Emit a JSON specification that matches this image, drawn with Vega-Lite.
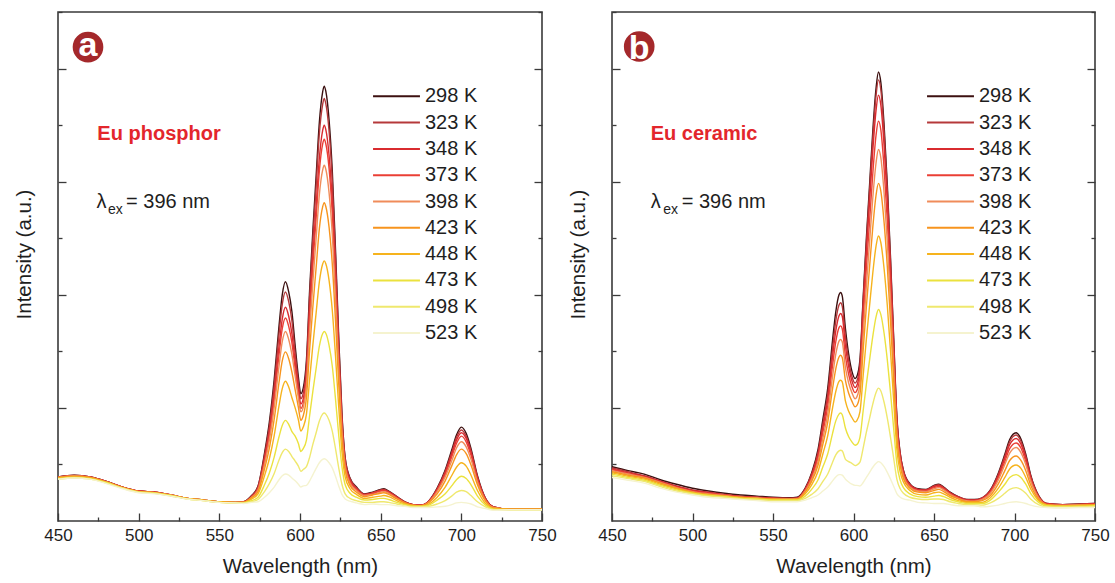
{
"$schema": "https://vega.github.io/schema/vega-lite/v6.json",
"background": "white",
"padding": {"left": 13, "top": 10, "right": 5, "bottom": 5},
"config": {
 "font": "Liberation Sans",
 "view": {"stroke": "#3a3a3a", "strokeWidth": 1.6},
 "axis": {"domain": false, "grid": false, "tickColor": "#3a3a3a", "tickWidth": 1.3, "labelFont": "Liberation Sans", "titleFont": "Liberation Sans", "labelColor": "#1e1e1e", "titleColor": "#1e1e1e", "titleFontWeight": "normal", "labelFontSize": 17, "labelPadding": 14.7},
 "legend": {"orient": "none", "legendX": 314, "legendY": 73.3, "title": null, "symbolType": "stroke", "symbolSize": 2200, "symbolStrokeWidth": 2, "labelFontSize": 20, "labelFont": "Liberation Sans", "labelColor": "#1e1e1e", "clipHeight": 22, "rowPadding": 4.3, "labelOffset": 4, "padding": 0}
},
"datasets": {
"phos": [
{"wl":450,"298 K":0.78,"323 K":0.78,"348 K":0.78,"373 K":0.77,"398 K":0.77,"423 K":0.77,"448 K":0.76,"473 K":0.75,"498 K":0.74,"523 K":0.74},
{"wl":460,"298 K":0.81,"323 K":0.81,"348 K":0.80,"373 K":0.80,"398 K":0.80,"423 K":0.79,"448 K":0.78,"473 K":0.77,"498 K":0.76,"523 K":0.76},
{"wl":470,"298 K":0.78,"323 K":0.78,"348 K":0.78,"373 K":0.77,"398 K":0.77,"423 K":0.77,"448 K":0.76,"473 K":0.75,"498 K":0.74,"523 K":0.74},
{"wl":480,"298 K":0.70,"323 K":0.70,"348 K":0.70,"373 K":0.69,"398 K":0.69,"423 K":0.69,"448 K":0.68,"473 K":0.68,"498 K":0.67,"523 K":0.66},
{"wl":490,"298 K":0.60,"323 K":0.60,"348 K":0.60,"373 K":0.60,"398 K":0.59,"423 K":0.59,"448 K":0.59,"473 K":0.58,"498 K":0.58,"523 K":0.57},
{"wl":500,"298 K":0.53,"323 K":0.53,"348 K":0.53,"373 K":0.53,"398 K":0.52,"423 K":0.52,"448 K":0.52,"473 K":0.51,"498 K":0.51,"523 K":0.50},
{"wl":510,"298 K":0.51,"323 K":0.51,"348 K":0.51,"373 K":0.51,"398 K":0.50,"423 K":0.50,"448 K":0.50,"473 K":0.49,"498 K":0.49,"523 K":0.48},
{"wl":520,"298 K":0.46,"323 K":0.46,"348 K":0.46,"373 K":0.46,"398 K":0.46,"423 K":0.45,"448 K":0.45,"473 K":0.45,"498 K":0.44,"523 K":0.44},
{"wl":530,"298 K":0.40,"323 K":0.40,"348 K":0.40,"373 K":0.40,"398 K":0.40,"423 K":0.40,"448 K":0.40,"473 K":0.39,"498 K":0.39,"523 K":0.39},
{"wl":540,"298 K":0.37,"323 K":0.37,"348 K":0.37,"373 K":0.37,"398 K":0.37,"423 K":0.37,"448 K":0.37,"473 K":0.36,"498 K":0.36,"523 K":0.36},
{"wl":550,"298 K":0.34,"323 K":0.34,"348 K":0.34,"373 K":0.34,"398 K":0.34,"423 K":0.34,"448 K":0.34,"473 K":0.33,"498 K":0.33,"523 K":0.33},
{"wl":560,"298 K":0.33,"323 K":0.33,"348 K":0.33,"373 K":0.33,"398 K":0.33,"423 K":0.33,"448 K":0.33,"473 K":0.32,"498 K":0.32,"523 K":0.32},
{"wl":565,"298 K":0.34,"323 K":0.34,"348 K":0.34,"373 K":0.34,"398 K":0.33,"423 K":0.33,"448 K":0.33,"473 K":0.32,"498 K":0.32,"523 K":0.31},
{"wl":570,"298 K":0.45,"323 K":0.44,"348 K":0.43,"373 K":0.43,"398 K":0.42,"423 K":0.41,"448 K":0.39,"473 K":0.36,"498 K":0.34,"523 K":0.33},
{"wl":574,"298 K":0.62,"323 K":0.61,"348 K":0.58,"373 K":0.57,"398 K":0.55,"423 K":0.52,"448 K":0.48,"473 K":0.42,"498 K":0.38,"523 K":0.34},
{"wl":578,"298 K":1.20,"323 K":1.16,"348 K":1.10,"373 K":1.05,"398 K":1.00,"423 K":0.92,"448 K":0.80,"473 K":0.64,"498 K":0.52,"523 K":0.42},
{"wl":581,"298 K":1.75,"323 K":1.68,"348 K":1.58,"373 K":1.51,"398 K":1.43,"423 K":1.29,"448 K":1.10,"473 K":0.85,"498 K":0.66,"523 K":0.50},
{"wl":584,"298 K":2.50,"323 K":2.40,"348 K":2.25,"373 K":2.14,"398 K":2.01,"423 K":1.80,"448 K":1.51,"473 K":1.13,"498 K":0.84,"523 K":0.60},
{"wl":587,"298 K":3.45,"323 K":3.31,"348 K":3.09,"373 K":2.94,"398 K":2.74,"423 K":2.45,"448 K":2.04,"473 K":1.49,"498 K":1.08,"523 K":0.73},
{"wl":589,"298 K":4.00,"323 K":3.83,"348 K":3.57,"373 K":3.40,"398 K":3.17,"423 K":2.83,"448 K":2.34,"473 K":1.69,"498 K":1.21,"523 K":0.80},
{"wl":591,"298 K":4.23,"323 K":4.05,"348 K":3.78,"373 K":3.59,"398 K":3.35,"423 K":2.99,"448 K":2.47,"473 K":1.78,"498 K":1.27,"523 K":0.83},
{"wl":593,"298 K":4.05,"323 K":3.88,"348 K":3.62,"373 K":3.44,"398 K":3.21,"423 K":2.87,"448 K":2.37,"473 K":1.71,"498 K":1.23,"523 K":0.81},
{"wl":595,"298 K":3.70,"323 K":3.54,"348 K":3.31,"373 K":3.15,"398 K":2.94,"423 K":2.63,"448 K":2.18,"473 K":1.58,"498 K":1.14,"523 K":0.76},
{"wl":597,"298 K":3.10,"323 K":2.97,"348 K":2.81,"373 K":2.69,"398 K":2.56,"423 K":2.32,"448 K":2.00,"473 K":1.50,"498 K":1.06,"523 K":0.71},
{"wl":599,"298 K":2.55,"323 K":2.45,"348 K":2.34,"373 K":2.25,"398 K":2.18,"423 K":2.01,"448 K":1.79,"473 K":1.37,"498 K":0.97,"523 K":0.65},
{"wl":600.5,"298 K":2.25,"323 K":2.16,"348 K":2.07,"373 K":1.99,"398 K":1.93,"423 K":1.78,"448 K":1.59,"473 K":1.23,"498 K":0.88,"523 K":0.60},
{"wl":602,"298 K":2.35,"323 K":2.26,"348 K":2.16,"373 K":2.08,"398 K":2.01,"423 K":1.86,"448 K":1.66,"473 K":1.28,"498 K":0.91,"523 K":0.62},
{"wl":604,"298 K":2.85,"323 K":2.75,"348 K":2.62,"373 K":2.52,"398 K":2.40,"423 K":2.19,"448 K":1.89,"473 K":1.43,"498 K":0.96,"523 K":0.63},
{"wl":606,"298 K":4.10,"323 K":3.99,"348 K":3.75,"373 K":3.62,"398 K":3.38,"423 K":3.04,"448 K":2.51,"473 K":1.87,"498 K":1.13,"523 K":0.71},
{"wl":608,"298 K":5.15,"323 K":5.01,"348 K":4.70,"373 K":4.53,"398 K":4.23,"423 K":3.80,"448 K":3.12,"473 K":2.30,"498 K":1.36,"523 K":0.82},
{"wl":610,"298 K":6.10,"323 K":5.93,"348 K":5.56,"373 K":5.36,"398 K":5.00,"423 K":4.48,"448 K":3.68,"473 K":2.70,"498 K":1.56,"523 K":0.93},
{"wl":612,"298 K":7.05,"323 K":6.85,"348 K":6.42,"373 K":6.19,"398 K":5.77,"423 K":5.17,"448 K":4.23,"473 K":3.09,"498 K":1.77,"523 K":1.03},
{"wl":614,"298 K":7.58,"323 K":7.36,"348 K":6.90,"373 K":6.66,"398 K":6.20,"423 K":5.55,"448 K":4.54,"473 K":3.31,"498 K":1.89,"523 K":1.09},
{"wl":615,"298 K":7.69,"323 K":7.47,"348 K":7.00,"373 K":6.75,"398 K":6.29,"423 K":5.63,"448 K":4.60,"473 K":3.35,"498 K":1.91,"523 K":1.10},
{"wl":616,"298 K":7.60,"323 K":7.38,"348 K":6.92,"373 K":6.67,"398 K":6.22,"423 K":5.56,"448 K":4.55,"473 K":3.32,"498 K":1.89,"523 K":1.09},
{"wl":618,"298 K":7.10,"323 K":6.90,"348 K":6.47,"373 K":6.24,"398 K":5.81,"423 K":5.20,"448 K":4.26,"473 K":3.11,"498 K":1.78,"523 K":1.03},
{"wl":620,"298 K":6.20,"323 K":6.02,"348 K":5.65,"373 K":5.45,"398 K":5.08,"423 K":4.55,"448 K":3.73,"473 K":2.74,"498 K":1.59,"523 K":0.94},
{"wl":622,"298 K":4.80,"323 K":4.67,"348 K":4.38,"373 K":4.23,"398 K":3.95,"423 K":3.54,"448 K":2.92,"473 K":2.16,"498 K":1.28,"523 K":0.79},
{"wl":624,"298 K":3.25,"323 K":3.16,"348 K":2.98,"373 K":2.88,"398 K":2.69,"423 K":2.43,"448 K":2.02,"473 K":1.52,"498 K":0.94,"523 K":0.62},
{"wl":626,"298 K":1.90,"323 K":1.85,"348 K":1.75,"373 K":1.70,"398 K":1.60,"423 K":1.45,"448 K":1.23,"473 K":0.96,"498 K":0.65,"523 K":0.47},
{"wl":628,"298 K":1.12,"323 K":1.10,"348 K":1.04,"373 K":1.02,"398 K":0.97,"423 K":0.89,"448 K":0.78,"473 K":0.64,"498 K":0.48,"523 K":0.39},
{"wl":631,"298 K":0.76,"323 K":0.75,"348 K":0.72,"373 K":0.70,"398 K":0.67,"423 K":0.63,"448 K":0.57,"473 K":0.49,"498 K":0.40,"523 K":0.35},
{"wl":635,"298 K":0.60,"323 K":0.59,"348 K":0.57,"373 K":0.56,"398 K":0.54,"423 K":0.51,"448 K":0.47,"473 K":0.42,"498 K":0.36,"523 K":0.32},
{"wl":640,"298 K":0.48,"323 K":0.47,"348 K":0.47,"373 K":0.46,"398 K":0.45,"423 K":0.43,"448 K":0.40,"473 K":0.37,"498 K":0.33,"523 K":0.29},
{"wl":645,"298 K":0.51,"323 K":0.50,"348 K":0.49,"373 K":0.49,"398 K":0.47,"423 K":0.46,"448 K":0.42,"473 K":0.38,"498 K":0.33,"523 K":0.30},
{"wl":650,"298 K":0.56,"323 K":0.55,"348 K":0.54,"373 K":0.53,"398 K":0.51,"423 K":0.49,"448 K":0.44,"473 K":0.40,"498 K":0.34,"523 K":0.29},
{"wl":652,"298 K":0.57,"323 K":0.56,"348 K":0.55,"373 K":0.54,"398 K":0.52,"423 K":0.50,"448 K":0.45,"473 K":0.40,"498 K":0.34,"523 K":0.29},
{"wl":655,"298 K":0.53,"323 K":0.52,"348 K":0.51,"373 K":0.50,"398 K":0.49,"423 K":0.47,"448 K":0.43,"473 K":0.38,"498 K":0.33,"523 K":0.29},
{"wl":660,"298 K":0.43,"323 K":0.43,"348 K":0.42,"373 K":0.41,"398 K":0.40,"423 K":0.39,"448 K":0.36,"473 K":0.33,"498 K":0.30,"523 K":0.27},
{"wl":665,"298 K":0.34,"323 K":0.34,"348 K":0.33,"373 K":0.33,"398 K":0.32,"423 K":0.32,"448 K":0.30,"473 K":0.29,"498 K":0.27,"523 K":0.26},
{"wl":670,"298 K":0.29,"323 K":0.29,"348 K":0.29,"373 K":0.29,"398 K":0.28,"423 K":0.28,"448 K":0.27,"473 K":0.26,"498 K":0.25,"523 K":0.24},
{"wl":675,"298 K":0.28,"323 K":0.28,"348 K":0.28,"373 K":0.28,"398 K":0.27,"423 K":0.27,"448 K":0.26,"473 K":0.26,"498 K":0.25,"523 K":0.24},
{"wl":680,"298 K":0.36,"323 K":0.36,"348 K":0.35,"373 K":0.35,"398 K":0.34,"423 K":0.33,"448 K":0.30,"473 K":0.28,"498 K":0.26,"523 K":0.24},
{"wl":685,"298 K":0.58,"323 K":0.57,"348 K":0.56,"373 K":0.54,"398 K":0.52,"423 K":0.48,"448 K":0.42,"473 K":0.37,"498 K":0.30,"523 K":0.25},
{"wl":690,"298 K":0.90,"323 K":0.88,"348 K":0.85,"373 K":0.82,"398 K":0.78,"423 K":0.71,"448 K":0.60,"473 K":0.48,"498 K":0.36,"523 K":0.26},
{"wl":694,"298 K":1.25,"323 K":1.21,"348 K":1.18,"373 K":1.13,"398 K":1.06,"423 K":0.97,"448 K":0.80,"473 K":0.62,"498 K":0.44,"523 K":0.29},
{"wl":697,"298 K":1.52,"323 K":1.48,"348 K":1.43,"373 K":1.37,"398 K":1.29,"423 K":1.17,"448 K":0.95,"473 K":0.73,"498 K":0.51,"523 K":0.32},
{"wl":700,"298 K":1.66,"323 K":1.61,"348 K":1.56,"373 K":1.50,"398 K":1.40,"423 K":1.27,"448 K":1.03,"473 K":0.79,"498 K":0.54,"523 K":0.33},
{"wl":703,"298 K":1.55,"323 K":1.50,"348 K":1.46,"373 K":1.40,"398 K":1.31,"423 K":1.19,"448 K":0.97,"473 K":0.75,"498 K":0.52,"523 K":0.32},
{"wl":706,"298 K":1.28,"323 K":1.24,"348 K":1.21,"373 K":1.16,"398 K":1.09,"423 K":0.99,"448 K":0.81,"473 K":0.64,"498 K":0.45,"523 K":0.30},
{"wl":710,"298 K":0.80,"323 K":0.78,"348 K":0.76,"373 K":0.73,"398 K":0.69,"423 K":0.64,"448 K":0.54,"473 K":0.44,"498 K":0.34,"523 K":0.25},
{"wl":715,"298 K":0.40,"323 K":0.39,"348 K":0.39,"373 K":0.38,"398 K":0.36,"423 K":0.35,"448 K":0.31,"473 K":0.28,"498 K":0.25,"523 K":0.22},
{"wl":720,"298 K":0.25,"323 K":0.25,"348 K":0.25,"373 K":0.24,"398 K":0.24,"423 K":0.23,"448 K":0.22,"473 K":0.21,"498 K":0.20,"523 K":0.19},
{"wl":730,"298 K":0.21,"323 K":0.21,"348 K":0.21,"373 K":0.21,"398 K":0.21,"423 K":0.21,"448 K":0.21,"473 K":0.20,"498 K":0.20,"523 K":0.20},
{"wl":740,"298 K":0.21,"323 K":0.21,"348 K":0.21,"373 K":0.21,"398 K":0.21,"423 K":0.21,"448 K":0.21,"473 K":0.20,"498 K":0.20,"523 K":0.20},
{"wl":750,"298 K":0.21,"323 K":0.21,"348 K":0.21,"373 K":0.21,"398 K":0.21,"423 K":0.21,"448 K":0.21,"473 K":0.20,"498 K":0.20,"523 K":0.20}
],
"cera": [
{"wl":450,"298 K":0.96,"323 K":0.94,"348 K":0.92,"373 K":0.91,"398 K":0.89,"423 K":0.87,"448 K":0.85,"473 K":0.83,"498 K":0.80,"523 K":0.77},
{"wl":460,"298 K":0.89,"323 K":0.87,"348 K":0.85,"373 K":0.84,"398 K":0.83,"423 K":0.81,"448 K":0.79,"473 K":0.77,"498 K":0.75,"523 K":0.72},
{"wl":470,"298 K":0.83,"323 K":0.80,"348 K":0.79,"373 K":0.78,"398 K":0.77,"423 K":0.76,"448 K":0.74,"473 K":0.72,"498 K":0.70,"523 K":0.67},
{"wl":480,"298 K":0.73,"323 K":0.71,"348 K":0.70,"373 K":0.69,"398 K":0.68,"423 K":0.67,"448 K":0.65,"473 K":0.63,"498 K":0.61,"523 K":0.58},
{"wl":490,"298 K":0.65,"323 K":0.62,"348 K":0.61,"373 K":0.60,"398 K":0.59,"423 K":0.58,"448 K":0.57,"473 K":0.55,"498 K":0.53,"523 K":0.51},
{"wl":500,"298 K":0.58,"323 K":0.55,"348 K":0.54,"373 K":0.53,"398 K":0.52,"423 K":0.51,"448 K":0.50,"473 K":0.49,"498 K":0.48,"523 K":0.46},
{"wl":510,"298 K":0.53,"323 K":0.51,"348 K":0.50,"373 K":0.49,"398 K":0.48,"423 K":0.47,"448 K":0.46,"473 K":0.45,"498 K":0.44,"523 K":0.42},
{"wl":520,"298 K":0.49,"323 K":0.47,"348 K":0.46,"373 K":0.46,"398 K":0.45,"423 K":0.44,"448 K":0.44,"473 K":0.43,"498 K":0.42,"523 K":0.40},
{"wl":530,"298 K":0.46,"323 K":0.44,"348 K":0.43,"373 K":0.43,"398 K":0.42,"423 K":0.42,"448 K":0.41,"473 K":0.40,"498 K":0.39,"523 K":0.38},
{"wl":540,"298 K":0.44,"323 K":0.42,"348 K":0.42,"373 K":0.41,"398 K":0.41,"423 K":0.40,"448 K":0.40,"473 K":0.39,"498 K":0.38,"523 K":0.36},
{"wl":550,"298 K":0.42,"323 K":0.41,"348 K":0.40,"373 K":0.40,"398 K":0.39,"423 K":0.39,"448 K":0.38,"473 K":0.37,"498 K":0.36,"523 K":0.34},
{"wl":560,"298 K":0.41,"323 K":0.40,"348 K":0.40,"373 K":0.39,"398 K":0.39,"423 K":0.38,"448 K":0.38,"473 K":0.37,"498 K":0.36,"523 K":0.34},
{"wl":565,"298 K":0.42,"323 K":0.41,"348 K":0.40,"373 K":0.40,"398 K":0.39,"423 K":0.39,"448 K":0.38,"473 K":0.37,"498 K":0.36,"523 K":0.34},
{"wl":570,"298 K":0.58,"323 K":0.57,"348 K":0.56,"373 K":0.54,"398 K":0.53,"423 K":0.51,"448 K":0.48,"473 K":0.44,"498 K":0.40,"523 K":0.37},
{"wl":574,"298 K":0.85,"323 K":0.83,"348 K":0.80,"373 K":0.77,"398 K":0.74,"423 K":0.70,"448 K":0.64,"473 K":0.56,"498 K":0.47,"523 K":0.41},
{"wl":578,"298 K":1.27,"323 K":1.22,"348 K":1.18,"373 K":1.12,"398 K":1.06,"423 K":0.99,"448 K":0.88,"473 K":0.73,"498 K":0.57,"523 K":0.46},
{"wl":581,"298 K":1.80,"323 K":1.73,"348 K":1.65,"373 K":1.57,"398 K":1.47,"423 K":1.36,"448 K":1.19,"473 K":0.96,"498 K":0.70,"523 K":0.53},
{"wl":584,"298 K":2.35,"323 K":2.25,"348 K":2.15,"373 K":2.03,"398 K":1.90,"423 K":1.75,"448 K":1.51,"473 K":1.19,"498 K":0.83,"523 K":0.60},
{"wl":587,"298 K":3.20,"323 K":3.06,"348 K":2.91,"373 K":2.75,"398 K":2.56,"423 K":2.34,"448 K":2.00,"473 K":1.55,"498 K":1.04,"523 K":0.71},
{"wl":589,"298 K":3.70,"323 K":3.54,"348 K":3.36,"373 K":3.17,"398 K":2.95,"423 K":2.69,"448 K":2.29,"473 K":1.77,"498 K":1.17,"523 K":0.78},
{"wl":591,"298 K":4.00,"323 K":3.82,"348 K":3.63,"373 K":3.42,"398 K":3.18,"423 K":2.90,"448 K":2.47,"473 K":1.89,"498 K":1.24,"523 K":0.82},
{"wl":592,"298 K":4.04,"323 K":3.86,"348 K":3.67,"373 K":3.45,"398 K":3.21,"423 K":2.93,"448 K":2.49,"473 K":1.91,"498 K":1.25,"523 K":0.82},
{"wl":593,"298 K":3.98,"323 K":3.80,"348 K":3.62,"373 K":3.40,"398 K":3.17,"423 K":2.89,"448 K":2.46,"473 K":1.88,"498 K":1.24,"523 K":0.81},
{"wl":595,"298 K":3.40,"323 K":3.25,"348 K":3.09,"373 K":2.91,"398 K":2.71,"423 K":2.48,"448 K":2.12,"473 K":1.64,"498 K":1.09,"523 K":0.74},
{"wl":597,"298 K":2.95,"323 K":2.84,"348 K":2.73,"373 K":2.59,"398 K":2.44,"423 K":2.26,"448 K":1.94,"473 K":1.49,"498 K":1.05,"523 K":0.69},
{"wl":599,"298 K":2.65,"323 K":2.56,"348 K":2.48,"373 K":2.38,"398 K":2.27,"423 K":2.12,"448 K":1.83,"473 K":1.40,"498 K":1.02,"523 K":0.65},
{"wl":601,"298 K":2.52,"323 K":2.44,"348 K":2.36,"373 K":2.27,"398 K":2.16,"423 K":2.02,"448 K":1.75,"473 K":1.34,"498 K":0.98,"523 K":0.63},
{"wl":602,"298 K":2.55,"323 K":2.47,"348 K":2.39,"373 K":2.30,"398 K":2.19,"423 K":2.04,"448 K":1.77,"473 K":1.35,"498 K":0.99,"523 K":0.63},
{"wl":604,"298 K":2.85,"323 K":2.78,"348 K":2.69,"373 K":2.56,"398 K":2.42,"423 K":2.24,"448 K":1.93,"473 K":1.48,"498 K":1.04,"523 K":0.62},
{"wl":606,"298 K":3.95,"323 K":3.89,"348 K":3.76,"373 K":3.54,"398 K":3.30,"423 K":3.02,"448 K":2.57,"473 K":1.95,"498 K":1.29,"523 K":0.68},
{"wl":608,"298 K":5.00,"323 K":4.92,"348 K":4.75,"373 K":4.47,"398 K":4.16,"423 K":3.79,"448 K":3.22,"473 K":2.42,"498 K":1.57,"523 K":0.77},
{"wl":610,"298 K":5.95,"323 K":5.85,"348 K":5.65,"373 K":5.31,"398 K":4.94,"423 K":4.50,"448 K":3.81,"473 K":2.85,"498 K":1.82,"523 K":0.86},
{"wl":612,"298 K":6.90,"323 K":6.78,"348 K":6.55,"373 K":6.15,"398 K":5.72,"423 K":5.20,"448 K":4.39,"473 K":3.27,"498 K":2.07,"523 K":0.95},
{"wl":614,"298 K":7.65,"323 K":7.52,"348 K":7.26,"373 K":6.82,"398 K":6.33,"423 K":5.76,"448 K":4.86,"473 K":3.61,"498 K":2.27,"523 K":1.02},
{"wl":615.5,"298 K":7.94,"323 K":7.80,"348 K":7.53,"373 K":7.07,"398 K":6.57,"423 K":5.97,"448 K":5.04,"473 K":3.74,"498 K":2.35,"523 K":1.05},
{"wl":617,"298 K":7.75,"323 K":7.62,"348 K":7.35,"373 K":6.91,"398 K":6.42,"423 K":5.83,"448 K":4.92,"473 K":3.65,"498 K":2.30,"523 K":1.03},
{"wl":619,"298 K":7.00,"323 K":6.88,"348 K":6.64,"373 K":6.24,"398 K":5.80,"423 K":5.28,"448 K":4.46,"473 K":3.32,"498 K":2.10,"523 K":0.96},
{"wl":621,"298 K":5.95,"323 K":5.85,"348 K":5.65,"373 K":5.31,"398 K":4.94,"423 K":4.50,"448 K":3.81,"473 K":2.85,"498 K":1.82,"523 K":0.86},
{"wl":623,"298 K":4.65,"323 K":4.57,"348 K":4.42,"373 K":4.16,"398 K":3.87,"423 K":3.53,"448 K":3.00,"473 K":2.27,"498 K":1.48,"523 K":0.74},
{"wl":625,"298 K":3.20,"323 K":3.15,"348 K":3.05,"373 K":2.87,"398 K":2.69,"423 K":2.46,"448 K":2.11,"473 K":1.62,"498 K":1.10,"523 K":0.61},
{"wl":627,"298 K":1.81,"323 K":1.78,"348 K":1.73,"373 K":1.64,"398 K":1.55,"423 K":1.43,"448 K":1.25,"473 K":1.00,"498 K":0.73,"523 K":0.48},
{"wl":629,"298 K":1.20,"323 K":1.19,"348 K":1.15,"373 K":1.10,"398 K":1.05,"423 K":0.98,"448 K":0.87,"473 K":0.72,"498 K":0.57,"523 K":0.42},
{"wl":631,"298 K":0.90,"323 K":0.89,"348 K":0.87,"373 K":0.84,"398 K":0.80,"423 K":0.75,"448 K":0.69,"473 K":0.59,"498 K":0.49,"523 K":0.39},
{"wl":635,"298 K":0.66,"323 K":0.65,"348 K":0.64,"373 K":0.62,"398 K":0.60,"423 K":0.58,"448 K":0.54,"473 K":0.48,"498 K":0.42,"523 K":0.37},
{"wl":640,"298 K":0.57,"323 K":0.56,"348 K":0.56,"373 K":0.54,"398 K":0.53,"423 K":0.51,"448 K":0.47,"473 K":0.43,"498 K":0.39,"523 K":0.33},
{"wl":645,"298 K":0.56,"323 K":0.55,"348 K":0.55,"373 K":0.53,"398 K":0.52,"423 K":0.50,"448 K":0.46,"473 K":0.42,"498 K":0.38,"523 K":0.32},
{"wl":650,"298 K":0.63,"323 K":0.62,"348 K":0.61,"373 K":0.59,"398 K":0.57,"423 K":0.54,"448 K":0.50,"473 K":0.44,"498 K":0.39,"523 K":0.31},
{"wl":653,"298 K":0.65,"323 K":0.64,"348 K":0.63,"373 K":0.61,"398 K":0.59,"423 K":0.56,"448 K":0.51,"473 K":0.45,"498 K":0.39,"523 K":0.31},
{"wl":656,"298 K":0.60,"323 K":0.59,"348 K":0.58,"373 K":0.57,"398 K":0.55,"423 K":0.52,"448 K":0.48,"473 K":0.43,"498 K":0.38,"523 K":0.31},
{"wl":660,"298 K":0.51,"323 K":0.50,"348 K":0.50,"373 K":0.48,"398 K":0.47,"423 K":0.45,"448 K":0.42,"473 K":0.38,"498 K":0.34,"523 K":0.29},
{"wl":665,"298 K":0.43,"323 K":0.43,"348 K":0.42,"373 K":0.41,"398 K":0.40,"423 K":0.39,"448 K":0.36,"473 K":0.34,"498 K":0.31,"523 K":0.27},
{"wl":670,"298 K":0.38,"323 K":0.38,"348 K":0.37,"373 K":0.36,"398 K":0.36,"423 K":0.34,"448 K":0.33,"473 K":0.31,"498 K":0.29,"523 K":0.27},
{"wl":675,"298 K":0.38,"323 K":0.37,"348 K":0.37,"373 K":0.36,"398 K":0.35,"423 K":0.34,"448 K":0.33,"473 K":0.31,"498 K":0.29,"523 K":0.27},
{"wl":680,"298 K":0.41,"323 K":0.41,"348 K":0.40,"373 K":0.39,"398 K":0.38,"423 K":0.36,"448 K":0.33,"473 K":0.31,"498 K":0.28,"523 K":0.25},
{"wl":685,"298 K":0.55,"323 K":0.54,"348 K":0.53,"373 K":0.51,"398 K":0.49,"423 K":0.45,"448 K":0.41,"473 K":0.37,"498 K":0.32,"523 K":0.26},
{"wl":690,"298 K":0.85,"323 K":0.83,"348 K":0.80,"373 K":0.77,"398 K":0.73,"423 K":0.66,"448 K":0.58,"473 K":0.51,"498 K":0.40,"523 K":0.28},
{"wl":694,"298 K":1.18,"323 K":1.15,"348 K":1.11,"373 K":1.05,"398 K":1.00,"423 K":0.89,"448 K":0.77,"473 K":0.65,"498 K":0.49,"523 K":0.31},
{"wl":697,"298 K":1.44,"323 K":1.40,"348 K":1.35,"373 K":1.28,"398 K":1.20,"423 K":1.07,"448 K":0.92,"473 K":0.77,"498 K":0.56,"523 K":0.33},
{"wl":701,"298 K":1.56,"323 K":1.52,"348 K":1.46,"373 K":1.38,"398 K":1.30,"423 K":1.15,"448 K":0.99,"473 K":0.82,"498 K":0.59,"523 K":0.34},
{"wl":704,"298 K":1.45,"323 K":1.41,"348 K":1.36,"373 K":1.29,"398 K":1.21,"423 K":1.07,"448 K":0.93,"473 K":0.77,"498 K":0.56,"523 K":0.33},
{"wl":707,"298 K":1.18,"323 K":1.15,"348 K":1.11,"373 K":1.05,"398 K":1.00,"423 K":0.89,"448 K":0.77,"473 K":0.65,"498 K":0.49,"523 K":0.31},
{"wl":710,"298 K":0.82,"323 K":0.80,"348 K":0.78,"373 K":0.74,"398 K":0.71,"423 K":0.64,"448 K":0.57,"473 K":0.49,"498 K":0.39,"523 K":0.28},
{"wl":715,"298 K":0.45,"323 K":0.44,"348 K":0.43,"373 K":0.42,"398 K":0.41,"423 K":0.38,"448 K":0.36,"473 K":0.33,"498 K":0.29,"523 K":0.25},
{"wl":720,"298 K":0.31,"323 K":0.31,"348 K":0.30,"373 K":0.30,"398 K":0.29,"423 K":0.29,"448 K":0.28,"473 K":0.27,"498 K":0.25,"523 K":0.24},
{"wl":730,"298 K":0.29,"323 K":0.29,"348 K":0.29,"373 K":0.28,"398 K":0.28,"423 K":0.27,"448 K":0.26,"473 K":0.26,"498 K":0.25,"523 K":0.23},
{"wl":740,"298 K":0.30,"323 K":0.30,"348 K":0.29,"373 K":0.29,"398 K":0.29,"423 K":0.28,"448 K":0.27,"473 K":0.26,"498 K":0.25,"523 K":0.24},
{"wl":750,"298 K":0.31,"323 K":0.31,"348 K":0.30,"373 K":0.30,"398 K":0.29,"423 K":0.29,"448 K":0.28,"473 K":0.27,"498 K":0.25,"523 K":0.24}
]
},
"hconcat": [
{
 "width": 484, "height": 509,
 "resolve": {"axis": {"x": "independent", "y": "independent"}},
 "layer": [
  {
   "data": {"name": "phos"},
   "transform": [{"fold": ["298 K","323 K","348 K","373 K","398 K","423 K","448 K","473 K","498 K","523 K"], "as": ["temp", "I"]}],
   "mark": {"type": "line", "strokeWidth": 1.4, "interpolate": "monotone"},
   "encoding": {
    "x": {"field": "wl", "type": "quantitative", "scale": {"domain": [450, 750], "nice": false, "zero": false},
      "axis": {"orient": "bottom", "values": [450,475,500,525,550,575,600,625,650,675,700,725,750], "labelExpr": "datum.value % 50 === 0 ? datum.label : ''", "labelOverlap": false, "labelFlush": false, "tickSize": {"condition": {"test": "datum.value % 50 === 0", "value": -8}, "value": -4}, "labelFontSize": 17, "labelPadding": 14.7, "title": "Wavelength (nm)", "titleFontSize": 20.5, "titleBaseline": "alphabetic", "titleY": 51}},
    "y": {"field": "I", "type": "quantitative", "scale": {"domain": [0, 9], "nice": false, "zero": false},
      "axis": {"orient": "left", "values": [1,2,3,4,5,6,7,8,9], "labels": false, "tickSize": {"condition": {"test": "datum.value % 2 === 0", "value": -8}, "value": -4}, "title": "Intensity (a.u.)", "titleFontSize": 20.5, "titleX": -34, "titleY": 242, "titleAngle": 270, "titleAlign": "center", "titleBaseline": "middle"}},
    "color": {"field": "temp", "type": "nominal", "scale": {"domain": ["298 K","323 K","348 K","373 K","398 K","423 K","448 K","473 K","498 K","523 K"], "range": ["#3c1010","#b5393a","#d92b2f","#ea3f35","#f08c5a","#f7941e","#f6b31d","#ebe23e","#efe86e","#f5f3cf"]}}
   }
  },
  {
   "data": {"values": [{}]},
   "mark": {"type": "point", "shape": "circle", "filled": true, "size": 940, "color": "#a4282b", "opacity": 1, "strokeWidth": 0},
   "encoding": {
    "x": {"datum": 468.6, "type": "quantitative", "scale": {"domain": [450, 750], "nice": false, "zero": false}, "axis": null},
    "y": {"datum": 8.38, "type": "quantitative", "scale": {"domain": [0, 9], "nice": false, "zero": false},
      "axis": {"orient": "right", "values": [1,2,3,4,5,6,7,8,9], "labels": false, "title": null, "tickSize": {"condition": {"test": "datum.value % 2 === 0", "value": -8}, "value": -4}}}
   }
  },
  {
   "data": {"values": [{}]},
   "mark": {"type": "text", "text": "a", "fontSize": 34, "fontWeight": "bold", "color": "white", "align": "center", "baseline": "alphabetic", "dy": 9},
   "encoding": {
    "x": {"datum": 468.6, "type": "quantitative", "axis": null},
    "y": {"datum": 8.38, "type": "quantitative", "axis": null}
   }
  },
  {
   "data": {"values": [{}]},
   "mark": {"type": "text", "text": "Eu phosphor", "fontSize": 20, "fontWeight": "bold", "color": "#e3262c", "align": "left", "baseline": "alphabetic"},
   "encoding": {
    "x": {"datum": 474.4, "type": "quantitative", "axis": null},
    "y": {"datum": 6.74, "type": "quantitative", "axis": null}
   }
  },
  {
   "data": {"values": [{}]},
   "mark": {"type": "text", "text": "λ", "fontSize": 20, "color": "#1e1e1e", "align": "left", "baseline": "alphabetic"},
   "encoding": {
    "x": {"datum": 473.9, "type": "quantitative", "axis": null},
    "y": {"datum": 5.53, "type": "quantitative", "axis": null}
   }
  },
  {
   "data": {"values": [{}]},
   "mark": {"type": "text", "text": "ex", "fontSize": 14, "color": "#1e1e1e", "align": "left", "baseline": "alphabetic"},
   "encoding": {
    "x": {"datum": 481.0, "type": "quantitative", "axis": null},
    "y": {"datum": 5.43, "type": "quantitative", "axis": null}
   }
  },
  {
   "data": {"values": [{}]},
   "mark": {"type": "text", "text": "= 396 nm", "fontSize": 20, "color": "#1e1e1e", "align": "left", "baseline": "alphabetic"},
   "encoding": {
    "x": {"datum": 492.2, "type": "quantitative", "axis": null},
    "y": {"datum": 5.53, "type": "quantitative", "axis": null}
   }
  }
 ]
},
{
 "width": 483, "height": 509,
 "resolve": {"axis": {"x": "independent", "y": "independent"}},
 "layer": [
  {
   "data": {"name": "cera"},
   "transform": [{"fold": ["298 K","323 K","348 K","373 K","398 K","423 K","448 K","473 K","498 K","523 K"], "as": ["temp", "I"]}],
   "mark": {"type": "line", "strokeWidth": 1.4, "interpolate": "monotone"},
   "encoding": {
    "x": {"field": "wl", "type": "quantitative", "scale": {"domain": [450, 750], "nice": false, "zero": false},
      "axis": {"orient": "bottom", "values": [450,475,500,525,550,575,600,625,650,675,700,725,750], "labelExpr": "datum.value % 50 === 0 ? datum.label : ''", "labelOverlap": false, "labelFlush": false, "tickSize": {"condition": {"test": "datum.value % 50 === 0", "value": -8}, "value": -4}, "labelFontSize": 17, "labelPadding": 14.7, "title": "Wavelength (nm)", "titleFontSize": 20.5, "titleBaseline": "alphabetic", "titleY": 51}},
    "y": {"field": "I", "type": "quantitative", "scale": {"domain": [0, 9], "nice": false, "zero": false},
      "axis": {"orient": "left", "values": [1,2,3,4,5,6,7,8,9], "labels": false, "tickSize": {"condition": {"test": "datum.value % 2 === 0", "value": -8}, "value": -4}, "title": "Intensity (a.u.)", "titleFontSize": 20.5, "titleX": -34, "titleY": 242, "titleAngle": 270, "titleAlign": "center", "titleBaseline": "middle"}},
    "color": {"field": "temp", "type": "nominal", "scale": {"domain": ["298 K","323 K","348 K","373 K","398 K","423 K","448 K","473 K","498 K","523 K"], "range": ["#3c1010","#b5393a","#d92b2f","#ea3f35","#f08c5a","#f7941e","#f6b31d","#ebe23e","#efe86e","#f5f3cf"]}}
   }
  },
  {
   "data": {"values": [{}]},
   "mark": {"type": "point", "shape": "circle", "filled": true, "size": 940, "color": "#a4282b", "opacity": 1, "strokeWidth": 0},
   "encoding": {
    "x": {"datum": 466.9, "type": "quantitative", "scale": {"domain": [450, 750], "nice": false, "zero": false}, "axis": null},
    "y": {"datum": 8.39, "type": "quantitative", "scale": {"domain": [0, 9], "nice": false, "zero": false},
      "axis": {"orient": "right", "values": [1,2,3,4,5,6,7,8,9], "labels": false, "title": null, "tickSize": {"condition": {"test": "datum.value % 2 === 0", "value": -8}, "value": -4}}}
   }
  },
  {
   "data": {"values": [{}]},
   "mark": {"type": "text", "text": "b", "fontSize": 34, "fontWeight": "bold", "color": "white", "align": "center", "baseline": "alphabetic", "dy": 12.5},
   "encoding": {
    "x": {"datum": 466.9, "type": "quantitative", "axis": null},
    "y": {"datum": 8.39, "type": "quantitative", "axis": null}
   }
  },
  {
   "data": {"values": [{}]},
   "mark": {"type": "text", "text": "Eu ceramic", "fontSize": 20, "fontWeight": "bold", "color": "#e3262c", "align": "left", "baseline": "alphabetic"},
   "encoding": {
    "x": {"datum": 474.0, "type": "quantitative", "axis": null},
    "y": {"datum": 6.74, "type": "quantitative", "axis": null}
   }
  },
  {
   "data": {"values": [{}]},
   "mark": {"type": "text", "text": "λ", "fontSize": 20, "color": "#1e1e1e", "align": "left", "baseline": "alphabetic"},
   "encoding": {
    "x": {"datum": 474.0, "type": "quantitative", "axis": null},
    "y": {"datum": 5.53, "type": "quantitative", "axis": null}
   }
  },
  {
   "data": {"values": [{}]},
   "mark": {"type": "text", "text": "ex", "fontSize": 14, "color": "#1e1e1e", "align": "left", "baseline": "alphabetic"},
   "encoding": {
    "x": {"datum": 481.8, "type": "quantitative", "axis": null},
    "y": {"datum": 5.43, "type": "quantitative", "axis": null}
   }
  },
  {
   "data": {"values": [{}]},
   "mark": {"type": "text", "text": "= 396 nm", "fontSize": 20, "color": "#1e1e1e", "align": "left", "baseline": "alphabetic"},
   "encoding": {
    "x": {"datum": 493.3, "type": "quantitative", "axis": null},
    "y": {"datum": 5.53, "type": "quantitative", "axis": null}
   }
  }
 ]
}
],
"spacing": 70,
"bounds": "flush",
"resolve": {"scale": {"color": "independent"}}
}
